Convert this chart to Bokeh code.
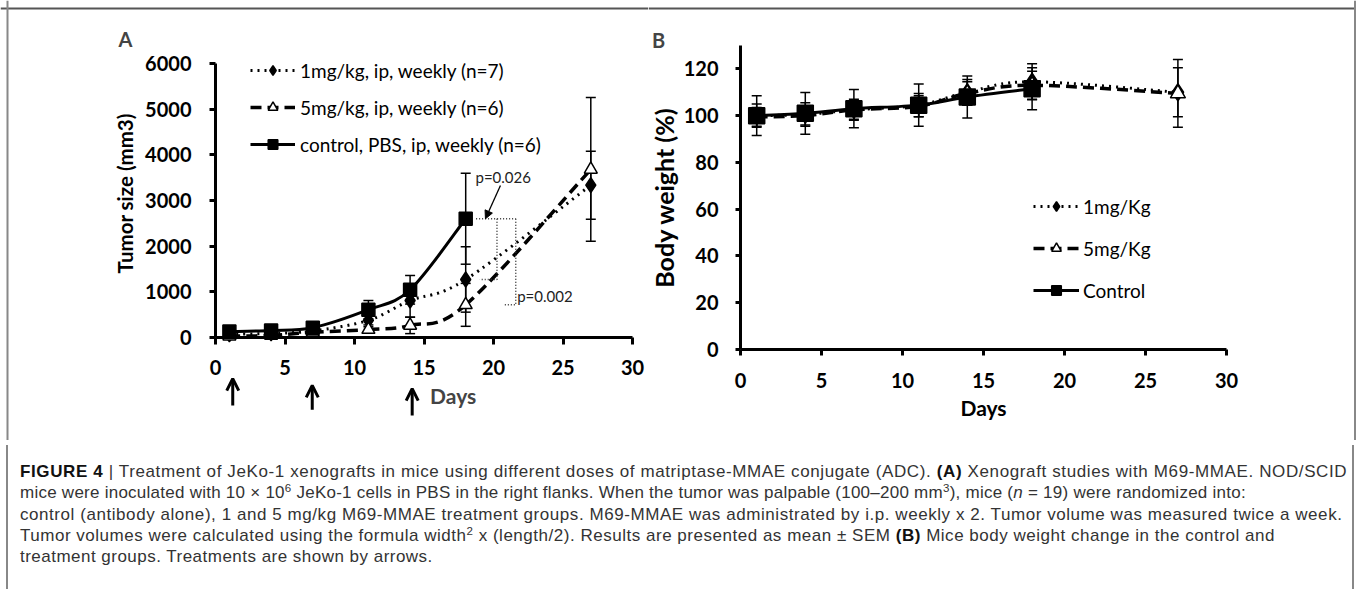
from bokeh.plotting import figure
from bokeh.models import (Range1d, FixedTicker, Whisker, TeeHead, ColumnDataSource,
                          Legend, LegendItem, Label, Arrow, OpenHead, NormalHead, Div, Span)
from bokeh.layouts import row, column
from bokeh.embed import file_html
from bokeh.resources import INLINE

# ---------------- data ----------------
days = [1, 4, 7, 11, 14, 18, 27]
days_ctrl = [1, 4, 7, 11, 14, 18]

# Panel A: tumor size (mm3)
tumor_1mg = [70, 90, 145, 375, 810, 1270, 3335]
tumor_1mg_err = [20, 30, 40, 100, 365, 715, 745]
tumor_5mg = [30, 45, 115, 175, 265, 715, 3680]
tumor_5mg_err = [15, 20, 30, 60, 180, 470, 1575]
tumor_ctrl = [130, 155, 215, 610, 1045, 2600]
tumor_ctrl_err = [40, 50, 60, 200, 313, 995]

# Panel B: body weight (%)
weight_1mg = [100, 100.5, 102.5, 104.5, 110, 114.5, 110]
weight_1mg_err = [5, 5, 4.5, 5, 5.5, 7.7, 10.5]
weight_5mg = [99.5, 100, 102.5, 104, 109.5, 113, 109.5]
weight_5mg_err = [4, 4, 4, 4.5, 5, 6, 14.5]
weight_ctrl = [100, 101, 103, 104.5, 108, 111.5]
weight_ctrl_err = [8.5, 8.9, 8.2, 9, 9, 9]

labels_a = ["1mg/kg, ip, weekly (n=7)", "5mg/kg, ip, weekly (n=6)", "control, PBS, ip, weekly (n=6)"]
labels_b = ["1mg/Kg", "5mg/Kg", "Control"]
p_values = ["p=0.026", "p=0.002"]
treatment_days = [1.24, 6.96, 14.15]

FONT = "Lato"
NB = "\u00a0"


def smooth(xs, ys):
    """Bezier segments (Catmull-Rom style) through the points, like Excel smoothed lines."""
    n = len(xs)
    pts = list(zip(xs, ys))
    d = dict(x0=[], y0=[], x1=[], y1=[], cx0=[], cy0=[], cx1=[], cy1=[])
    for i in range(n - 1):
        p0 = pts[i - 1] if i > 0 else pts[i]
        p1 = pts[i]
        p2 = pts[i + 1]
        p3 = pts[i + 2] if i + 2 < n else pts[i + 1]
        d["x0"].append(p1[0]); d["y0"].append(p1[1])
        d["x1"].append(p2[0]); d["y1"].append(p2[1])
        d["cx0"].append(p1[0] + (p2[0] - p0[0]) / 6.0)
        d["cy0"].append(p1[1] + (p2[1] - p0[1]) / 6.0)
        d["cx1"].append(p2[0] - (p3[0] - p1[0]) / 6.0)
        d["cy1"].append(p2[1] - (p3[1] - p1[1]) / 6.0)
    return ColumnDataSource(d)


class Frame:
    """Maps canvas pixels to data so that data (0,0) lands at canvas pixel (x0_px, y0_px)."""
    def __init__(self, width, height, x0_px, px_per_x, y0_px, px_per_y):
        self.w, self.h = width, height
        self.x0, self.kx, self.y0, self.ky = x0_px, px_per_x, y0_px, px_per_y

    def x(self, px):
        return (px - self.x0) / self.kx

    def y(self, py):
        return (self.y0 - py) / self.ky

    def ranges(self):
        return Range1d(self.x(0), self.x(self.w)), Range1d(self.y(self.h), self.y(0))


def make_fig(fr):
    xr, yr = fr.ranges()
    p = figure(width=fr.w, height=fr.h, x_range=xr, y_range=yr,
               output_backend="svg", toolbar_location=None,
               min_border_left=0, min_border_right=0, min_border_top=0, min_border_bottom=0)
    p.xgrid.visible = False
    p.ygrid.visible = False
    p.outline_line_color = None
    p.background_fill_color = "white"
    p.border_fill_color = "white"
    return p


def style_axes(p, tick_size, label_size, xmax, ymax):
    for ax in (p.xaxis[0], p.yaxis[0]):
        ax.fixed_location = 0
        ax.axis_line_width = 3
        ax.axis_line_color = "black"
        ax.major_tick_line_width = 3
        ax.major_tick_line_color = "black"
        ax.major_tick_in = 0
        ax.minor_tick_line_color = None
        ax.major_label_text_font = FONT
        ax.major_label_text_font_size = tick_size
        ax.major_label_text_font_style = "bold"
        ax.major_label_text_color = "black"
        ax.axis_label_text_font = FONT
        ax.axis_label_text_font_size = label_size
        ax.axis_label_text_font_style = "bold"
        ax.axis_label_text_color = "black"
    p.xaxis.bounds = (0, xmax)
    p.yaxis.bounds = (0, ymax)


def add_series(p, xs, ys, errs, marker, msize, dash, fill, width=3):
    src = smooth(xs, ys)
    line = p.bezier(x0="x0", y0="y0", x1="x1", y1="y1", cx0="cx0", cy0="cy0", cx1="cx1", cy1="cy1",
                    source=src, line_color="black", line_width=width, line_dash=dash)
    esrc = ColumnDataSource(dict(x=xs, upper=[y + e for y, e in zip(ys, errs)],
                                 lower=[y - e for y, e in zip(ys, errs)]))
    w = Whisker(source=esrc, base="x", upper="upper", lower="lower", line_color="black",
                line_width=1.5,
                upper_head=TeeHead(size=10, line_width=1.5, line_color="black"),
                lower_head=TeeHead(size=10, line_width=1.5, line_color="black"))
    p.add_layout(w)
    sc = p.scatter(xs, ys, marker=marker, size=msize, fill_color=fill, line_color="black",
                   line_width=1.5)
    return [line, sc]


# ---------------- Panel A ----------------
fa = Frame(648, 440, 215, 13.9, 337, 274 / 6000)
pa = make_fig(fa)
style_axes(pa, "20px", "20.5px", 30, 6000)
pa.xaxis.ticker = FixedTicker(ticks=[0, 5, 10, 15, 20, 25, 30])
pa.yaxis.ticker = FixedTicker(ticks=[0, 1000, 2000, 3000, 4000, 5000, 6000])
pa.xaxis.major_tick_out = 7
pa.yaxis.major_tick_out = 6
pa.xaxis.major_label_standoff = 15
pa.yaxis.major_label_standoff = 18
pa.yaxis.axis_label = NB * 3 + "Tumor size (mm3)"
pa.yaxis.axis_label_standoff = 5
# figure frame lines (top and left edge of the whole figure)
pa.add_layout(Span(location=fa.y(8), dimension="width", line_color="#555", line_width=2))
pa.add_layout(Span(location=fa.x(7), dimension="height", line_color="#888", line_width=2))

ra1 = add_series(pa, days, tumor_1mg, tumor_1mg_err, "diamond", 15, "2 5", "black")
ra5 = add_series(pa, days, tumor_5mg, tumor_5mg_err, "triangle", 13, "11 6", "white", width=3.5)
rac = add_series(pa, days_ctrl, tumor_ctrl, tumor_ctrl_err, "square", 13, "solid", "black")

leg_a = Legend(items=[LegendItem(label=labels_a[0], renderers=ra1),
                      LegendItem(label=labels_a[1], renderers=ra5),
                      LegendItem(label=labels_a[2], renderers=rac)],
               location=(250, 284), glyph_width=45, glyph_height=24, label_height=24,
               spacing=13, padding=0, margin=0, label_standoff=5,
               border_line_color=None, background_fill_alpha=0,
               label_text_font=FONT, label_text_font_size="19px", label_text_color="black")
pa.add_layout(leg_a)

# significance brackets (day 18: control vs 1mg, control vs 5mg)
pa.line([18.75, 21.6], [tumor_ctrl[5], tumor_ctrl[5]], line_color="#333", line_width=1.5, line_dash="1 2")
pa.line([20.25, 20.25, 19.0], [tumor_ctrl[5], tumor_1mg[5], tumor_1mg[5]],
        line_color="#333", line_width=1.5, line_dash="1 2")
pa.line([21.6, 21.6, 20.7], [tumor_ctrl[5], tumor_5mg[5], tumor_5mg[5]],
        line_color="#333", line_width=1.5, line_dash="1 2")
pa.add_layout(Label(x=20.7, y=3510, text=p_values[0], text_font=FONT, text_font_size="15px",
                    text_align="center", text_baseline="middle", text_color="#222"))
pa.add_layout(Label(x=23.7, y=898, text=p_values[1], text_font=FONT, text_font_size="15px",
                    text_align="center", text_baseline="middle", text_color="#222"))
pa.add_layout(Arrow(end=NormalHead(size=8, fill_color="black", line_color="black"),
                    x_start=20.5, y_start=3330, x_end=19.42, y_end=2600,
                    line_color="black", line_width=1.3))

# treatment arrows and labels below the axis
arrow_tips = [-900, -1050, -1120]
arrow_tails = [-1490, -1580, -1710]
for d, tip, tail in zip(treatment_days, arrow_tips, arrow_tails):
    pa.add_layout(Arrow(end=OpenHead(size=12, line_width=3, line_color="black"),
                        x_start=d, y_start=tail, x_end=d, y_end=tip,
                        line_color="black", line_width=3))
pa.add_layout(Label(x=17.1, y=-1270, text="Days", text_font=FONT, text_font_size="21px",
                    text_font_style="bold", text_align="center", text_baseline="middle"))
pa.add_layout(Label(x=fa.x(125), y=fa.y(38), text="A", text_font=FONT, text_font_size="20px",
                    text_font_style="bold", text_align="center", text_baseline="middle"))

# ---------------- Panel B ----------------
fb = Frame(708, 440, 92, 16.2, 349, 304 / 130)
pb = make_fig(fb)
style_axes(pb, "20px", "25px", 30, 130)
pb.xaxis.ticker = FixedTicker(ticks=[0, 5, 10, 15, 20, 25, 30])
pb.yaxis.ticker = FixedTicker(ticks=[0, 20, 40, 60, 80, 100, 120])
pb.xaxis.major_tick_out = 6
pb.yaxis.major_tick_out = 5
pb.xaxis.major_label_standoff = 17
pb.yaxis.major_label_standoff = 17
pb.xaxis.axis_label = "Days"
pb.xaxis.axis_label_text_font_size = "21px"
pb.xaxis.axis_label_standoff = 4
pb.yaxis.axis_label = "Body weight (%)"
pb.yaxis.axis_label_standoff = 2
pb.add_layout(Span(location=fb.y(8), dimension="width", line_color="#555", line_width=2))
pb.add_layout(Span(location=fb.x(1354.5 - 648), dimension="height", line_color="#888", line_width=2))

rb1 = add_series(pb, days, weight_1mg, weight_1mg_err, "diamond", 17, "2 5", "black")
rb5 = add_series(pb, days, weight_5mg, weight_5mg_err, "triangle", 15, "11 6", "white", width=3.5)
rbc = add_series(pb, days_ctrl, weight_ctrl, weight_ctrl_err, "square", 16, "solid", "black")

leg_b = Legend(items=[LegendItem(label=labels_b[0], renderers=rb1),
                      LegendItem(label=labels_b[1], renderers=rb5),
                      LegendItem(label=labels_b[2], renderers=rbc)],
               location=(385, 138), glyph_width=46, glyph_height=24, label_height=24,
               spacing=18, padding=0, margin=0, label_standoff=4,
               border_line_color=None, background_fill_alpha=0,
               label_text_font=FONT, label_text_font_size="19px", label_text_color="black")
pb.add_layout(leg_b)
pb.add_layout(Label(x=fb.x(658 - 648), y=fb.y(39), text="B", text_font=FONT, text_font_size="20px",
                    text_font_style="bold", text_align="center", text_baseline="middle"))

# ---------------- caption ----------------
sup = '<sup style="font-size:68%;line-height:0;vertical-align:0.55em">'


def ln(text, ls):
    return '<span style="letter-spacing:%.2fpx">%s</span>' % (ls, text)


caption = (
    '<div style="box-sizing:border-box;width:1348px;height:148px;margin-left:1px;'
    'border-left:2px solid #888;border-right:2px solid #888;'
    'font-family:\'Liberation Sans\',Arial,sans-serif;font-size:17px;'
    'line-height:21.3px;color:#333;white-space:nowrap;overflow:hidden;padding:16px 0 0 12px;">'
    + ln('<b style="color:#111">FIGURE 4</b> | Treatment of JeKo-1 xenografts in mice using different doses of '
         'matriptase-MMAE conjugate (ADC). <b style="color:#111">(A)</b> Xenograft studies with M69-MMAE. NOD/SCID', 0.62)
    + '<br>'
    + ln('mice were inoculated with 10 &times; 10' + sup + '6</sup> JeKo-1 cells in PBS in the right flanks. '
         'When the tumor was palpable (100&ndash;200 mm' + sup + '3</sup>), mice (<i>n</i> = 19) were randomized into:', 0.25)
    + '<br>'
    + ln('control (antibody alone), 1 and 5 mg/kg M69-MMAE treatment groups. M69-MMAE was administrated by i.p. '
         'weekly x 2. Tumor volume was measured twice a week.', 0.56)
    + '<br>'
    + ln('Tumor volumes were calculated using the formula width' + sup + '2</sup> x (length/2). Results are presented '
         'as mean &plusmn; SEM <b style="color:#111">(B)</b> Mice body weight change in the control and', 0.52)
    + '<br>'
    + ln('treatment groups. Treatments are shown by arrows.', 0.48)
    + '</div>'
)
cap = Div(text=caption, width=fa.w + fb.w, height=148)

layout = column(row(pa, pb), cap)

open("out.html", "w").write(file_html(layout, INLINE))
